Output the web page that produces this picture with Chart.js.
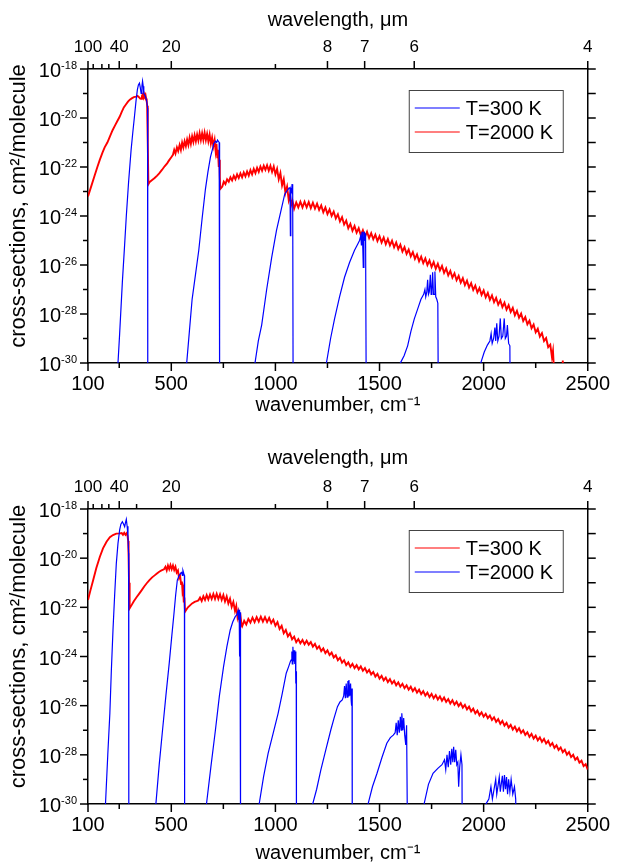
<!DOCTYPE html>
<html>
<head>
<meta charset="utf-8">
<script src="https://cdn.jsdelivr.net/npm/chart.js@4.4.0/dist/chart.umd.min.js"></script>
<style>
html, body { margin: 0; padding: 0; background: #fff; }
#top { position: absolute; left: 0; top: 0; width: 619px; height: 430px; }
#bottom { position: absolute; left: 0; top: 440px; width: 619px; height: 425px; }
</style>
</head>
<body>
<div id="top"><canvas id="c1"></canvas></div>
<div id="bottom"><canvas id="c2"></canvas></div>
<script>
// axis ticks
const xMajor = [100, 500, 1000, 1500, 2000, 2500];
const xMinor = [250, 750, 1250, 1750, 2250];
const wlMajor = [100, 40, 20, 8, 7, 6, 4];       // wavelength, um (top axis)
const wlMinor = [80, 60, 50, 30, 10];
const decades = [-18, -19, -20, -21, -22, -23, -24, -25, -26, -27, -28, -29, -30];
const decadeLabels = [-18, -20, -22, -24, -26, -28, -30];

// [wavenumber cm-1, log10(cross-section)]
// upper panel, T=300 K
const topBlue = [
  [240,-31],[244,-30],[252,-28.8],[265,-26.7],[275,-25.3],[284,-24.0],[295,-22.6],[307,-21.3],[315,-20.6],
  [323,-19.95],[331,-19.27],[337,-18.85],[342,-18.65],[347,-18.58],[351,-18.75],[355,-19.0],[359,-18.7],
  [362,-18.5],[365,-18.7],[368,-19.0],[375,-19.1],[382,-19.3],[386,-19.6],[387,-31],
  [570,-31],[574,-30],[587,-28.7],[600,-27.4],[616,-26.4],[632,-25.4],[648,-24.1],[664,-22.9],[676,-22.2],
  [688,-21.6],[697,-21.3],[704,-21.05],[712,-20.95],[718,-21.0],[722,-20.9],[726,-20.95],[730,-21.0],[732,-31],
  [898,-31],[902,-30],[918,-29.1],[934,-28.45],[958,-27.0],[982,-25.7],[1005,-24.6],[1030,-23.66],[1045,-23.1],
  [1058,-22.95],[1066,-22.85],[1070,-22.84],[1072,-24.8],[1074,-22.9],[1078,-23.0],[1080,-22.7],[1083,-22.9],[1085,-31],
  [1241,-31],[1245,-30],[1265,-29.0],[1284,-28.2],[1308,-27.3],[1332,-26.5],[1356,-25.9],[1380,-25.4],[1395,-25.15],
  [1404,-25.0],[1410,-24.8],[1413,-25.2],[1417,-24.64],[1420,-25.4],[1422,-26.1],[1425,-25.0],[1427,-24.64],
  [1431,-25.0],[1433,-24.7],[1436,-31],
  [1596,-31],[1600,-30],[1618,-29.7],[1635,-29.3],[1651,-28.7],[1667,-28.2],[1683,-27.8],[1699,-27.4],[1712,-27.2],
  [1718,-27.0],[1722,-27.3],[1727,-27.1],[1731,-26.6],[1735,-27.2],[1739,-27.1],[1744,-26.4],[1748,-27.2],[1751,-27.1],
  [1755,-26.3],[1759,-27.2],[1762,-27.2],[1766,-26.27],[1770,-27.3],[1775,-27.4],[1780,-27.56],[1782,-31],
  [1982,-31],[1986,-30],[2003,-29.55],[2018,-29.27],[2030,-29.1],[2036,-28.8],[2041,-29.2],[2048,-29.0],[2054,-28.55],
  [2058,-29.1],[2063,-28.38],[2068,-29.1],[2074,-28.9],[2080,-28.18],[2085,-29.0],[2092,-28.9],[2099,-28.18],
  [2104,-29.0],[2110,-28.9],[2114,-28.45],[2120,-29.2],[2126,-29.3],[2127,-31]
];

// upper panel, T=2000 K
const topRed = [
  [100,-23.2],[115,-22.8],[130,-22.4],[145,-22.0],[157,-21.7],[170,-21.4],[180,-21.2],[193,-21.0],[205,-20.76],
  [218,-20.5],[230,-20.3],[241,-20.12],[252,-19.95],[262,-19.75],[272,-19.57],[282,-19.45],[292,-19.33],[301,-19.25],
  [310,-19.2],[320,-19.15],[331,-19.13],[338,-19.1],[345,-19.15],[350,-19.2],[355,-19.22],[359,-19.1],[362,-19.05],
  [366,-19.15],[369,-19.0],[373,-19.1],[376,-19.05],[379,-19.2],[382,-19.3],[384,-19.5],[386,-19.8],[387,-20.1],
  [388,-21.0],[390,-22.7],
  [395,-22.62],[405,-22.55],[420,-22.45],[432,-22.35],[442,-22.26],[455,-22.12],[468,-21.97],[480,-21.85],[490,-21.72],
  [500,-21.6],[508,-21.5],[514,-21.3],[520,-21.45],[527,-21.2],[533,-21.35],[540,-21.1],[546,-21.3],[552,-21.0],
  [558,-21.2],[564,-20.95],[570,-21.15],[576,-20.88],[582,-21.1],[588,-20.8],[594,-21.05],[600,-20.75],[606,-20.98],
  [612,-20.7],[618,-20.95],[624,-20.68],[630,-20.92],[636,-20.62],[642,-20.9],[648,-20.62],[654,-20.9],[660,-20.6],
  [666,-20.9],[672,-20.65],[678,-20.95],[684,-20.68],[690,-21.05],[696,-20.8],[702,-21.15],[708,-20.9],[713,-21.35],
  [717,-21.05],[721,-21.6],[724,-21.3],[728,-22.0],[731,-21.7],[733,-22.4],[735,-22.9],
  [745,-22.8],[752,-22.6],[760,-22.7],[768,-22.5],[776,-22.6],[784,-22.42],[792,-22.55],[800,-22.36],[808,-22.5],
  [816,-22.3],[824,-22.45],[832,-22.26],[840,-22.42],[848,-22.22],[856,-22.38],[864,-22.18],[872,-22.35],[880,-22.13],
  [888,-22.3],[896,-22.08],[904,-22.25],[912,-22.03],[920,-22.2],[928,-21.98],[936,-22.15],[944,-21.95],[952,-22.12],
  [960,-21.93],[968,-22.15],[976,-21.95],[984,-22.2],[992,-21.98],[1000,-22.3],[1008,-22.08],[1016,-22.5],[1024,-22.25],
  [1032,-22.75],[1040,-22.5],[1048,-23.05],[1056,-22.8],[1064,-23.35],[1070,-23.15],[1076,-23.55],[1082,-23.38],
  [1090,-23.7],[1100,-23.45],[1110,-23.65],[1120,-23.42],[1130,-23.65],[1140,-23.42],[1150,-23.65],[1160,-23.43],
  [1170,-23.68],[1180,-23.46],[1190,-23.7],[1200,-23.5],[1210,-23.75],[1220,-23.57],[1230,-23.85],[1240,-23.65],
  [1250,-23.92],[1260,-23.73],[1270,-24.0],[1280,-23.82],[1290,-24.1],[1300,-23.93],[1310,-24.22],[1320,-24.05],
  [1330,-24.35],[1340,-24.19],[1350,-24.5],[1360,-24.32],[1370,-24.6],[1380,-24.41],[1390,-24.68],[1400,-24.5],
  [1410,-24.78],[1420,-24.58],[1430,-24.85],[1440,-24.64],[1450,-24.9],[1460,-24.7],[1470,-24.95],[1480,-24.76],
  [1490,-25.02],[1500,-24.82],[1510,-25.08],[1520,-24.88],[1530,-25.15],[1540,-24.94],[1550,-25.2],[1560,-25.01],
  [1570,-25.28],[1580,-25.08],[1590,-25.35],[1600,-25.17],[1610,-25.45],[1620,-25.27],[1630,-25.55],[1640,-25.37],
  [1650,-25.65],[1660,-25.47],[1670,-25.75],[1680,-25.57],[1690,-25.85],[1700,-25.66],[1710,-25.92],[1720,-25.73],
  [1730,-26.0],[1740,-25.81],[1750,-26.08],[1760,-25.88],[1770,-26.15],[1780,-25.95],[1790,-26.22],[1800,-26.04],
  [1810,-26.32],[1820,-26.14],[1830,-26.42],[1840,-26.24],[1850,-26.52],[1860,-26.34],[1870,-26.62],[1880,-26.44],
  [1890,-26.72],[1900,-26.54],[1910,-26.82],[1920,-26.64],[1930,-26.92],[1940,-26.74],[1950,-27.02],[1960,-26.84],
  [1970,-27.12],[1980,-26.94],[1990,-27.22],[2000,-27.04],[2010,-27.32],[2020,-27.14],[2030,-27.42],[2040,-27.24],
  [2050,-27.52],[2060,-27.34],[2070,-27.62],[2080,-27.44],[2090,-27.72],[2100,-27.54],[2110,-27.82],[2120,-27.64],
  [2130,-27.92],[2140,-27.75],[2150,-28.05],[2160,-27.87],[2170,-28.15],[2180,-27.98],[2190,-28.28],[2200,-28.12],
  [2210,-28.42],[2220,-28.27],[2230,-28.58],[2240,-28.43],[2250,-28.75],[2260,-28.6],[2270,-28.92],[2280,-28.78],
  [2290,-29.1],[2300,-28.98],[2310,-29.35],[2320,-29.25],[2328,-29.75],[2333,-29.5],[2338,-30.3],
  [2378,-30.3],[2380,-29.9],[2382,-30.3]
];

// lower panel, T=300 K (red)
const botRed = [
  [100,-21.7],[112,-21.3],[125,-20.89],[140,-20.4],[157,-19.94],[172,-19.6],[189,-19.33],[205,-19.15],[220,-19.06],
  [236,-19.0],[252,-18.99],[262,-18.98],[268,-19.05],[274,-18.97],[280,-19.05],[286,-18.98],[290,-19.1],[293,-19.3],
  [295,-19.94],[297,-21.0],[300,-22.04],
  [310,-21.9],[320,-21.75],[334,-21.58],[347,-21.43],[358,-21.3],[370,-21.15],[382,-21.02],[395,-20.89],[408,-20.78],
  [420,-20.7],[431,-20.62],[442,-20.55],[453,-20.5],[465,-20.45],[472,-20.35],[478,-20.5],[484,-20.3],[490,-20.45],
  [496,-20.28],[502,-20.45],[508,-20.3],[514,-20.48],[520,-20.35],[526,-20.58],[532,-20.5],[537,-20.8],[542,-20.7],
  [547,-21.05],[551,-20.95],[554,-21.35],[557,-21.25],[560,-21.8],[563,-21.6],[566,-22.18],
  [572,-22.1],[580,-22.0],[590,-21.92],[600,-21.84],[612,-21.78],[622,-21.75],[630,-21.72],[638,-21.6],[646,-21.74],
  [654,-21.55],[662,-21.7],[670,-21.5],[678,-21.68],[686,-21.48],[694,-21.66],[702,-21.46],[710,-21.66],[718,-21.45],
  [726,-21.66],[734,-21.47],[742,-21.7],[750,-21.5],[758,-21.76],[766,-21.56],[774,-21.84],[782,-21.65],[790,-21.98],
  [798,-21.78],[806,-22.15],[812,-21.95],[818,-22.4],[823,-22.2],[828,-22.55],[833,-22.4],[838,-22.75],
  [840,-22.78],[850,-22.55],[860,-22.7],[870,-22.47],[880,-22.62],[890,-22.42],[900,-22.6],[910,-22.4],[920,-22.58],
  [930,-22.38],[940,-22.58],[950,-22.4],[960,-22.6],[970,-22.43],[980,-22.64],[990,-22.5],[1000,-22.75],[1010,-22.6],
  [1020,-22.88],[1030,-22.75],[1040,-23.05],[1050,-22.92],[1060,-23.18],[1070,-23.06],[1080,-23.3],[1090,-23.19],
  [1100,-23.42],[1110,-23.29],[1120,-23.46],[1130,-23.33],[1140,-23.5],[1150,-23.36],[1160,-23.52],[1170,-23.41],
  [1180,-23.6],[1190,-23.49],[1200,-23.68],[1210,-23.58],[1220,-23.78],[1230,-23.67],[1240,-23.86],[1250,-23.75],
  [1260,-23.94],[1270,-23.84],[1280,-24.04],[1290,-23.95],[1300,-24.15],[1310,-24.05],[1320,-24.25],[1330,-24.15],
  [1340,-24.35],[1350,-24.24],[1360,-24.42],[1370,-24.3],[1380,-24.47],[1390,-24.35],[1400,-24.52],[1410,-24.4],
  [1420,-24.58],[1430,-24.47],[1440,-24.65],[1450,-24.54],[1460,-24.73],[1470,-24.63],[1480,-24.82],[1490,-24.71],
  [1500,-24.9],[1510,-24.79],[1520,-24.97],[1530,-24.86],[1540,-25.04],[1550,-24.92],[1560,-25.1],[1570,-24.99],
  [1580,-25.17],[1590,-25.05],[1600,-25.23],[1610,-25.11],[1620,-25.29],[1630,-25.17],[1640,-25.35],[1650,-25.23],
  [1660,-25.41],[1670,-25.29],[1680,-25.47],[1690,-25.35],[1700,-25.53],[1710,-25.41],[1720,-25.59],[1730,-25.47],
  [1740,-25.65],[1750,-25.52],[1760,-25.7],[1770,-25.57],[1780,-25.75],[1790,-25.62],[1800,-25.8],[1810,-25.67],
  [1820,-25.85],[1830,-25.73],[1840,-25.91],[1850,-25.78],[1860,-25.96],[1870,-25.84],[1880,-26.02],[1890,-25.9],
  [1900,-26.08],[1910,-25.97],[1920,-26.15],[1930,-26.04],[1940,-26.23],[1950,-26.12],[1960,-26.31],[1970,-26.2],
  [1980,-26.39],[1990,-26.27],[2000,-26.45],[2010,-26.33],[2020,-26.51],[2030,-26.4],[2040,-26.58],[2050,-26.47],
  [2060,-26.66],[2070,-26.55],[2080,-26.74],[2090,-26.62],[2100,-26.81],[2110,-26.7],[2120,-26.89],[2130,-26.78],
  [2140,-26.97],[2150,-26.85],[2160,-27.04],[2170,-26.92],[2180,-27.11],[2190,-27.0],[2200,-27.19],[2210,-27.08],
  [2220,-27.27],[2230,-27.15],[2240,-27.34],[2250,-27.22],[2260,-27.41],[2270,-27.29],[2280,-27.47],[2290,-27.35],
  [2300,-27.54],[2310,-27.43],[2320,-27.63],[2330,-27.52],[2340,-27.72],[2350,-27.61],[2360,-27.8],[2370,-27.7],
  [2380,-27.89],[2390,-27.79],[2400,-27.99],[2410,-27.89],[2420,-28.09],[2430,-28.0],[2440,-28.2],[2450,-28.11],
  [2460,-28.32],[2470,-28.24],[2480,-28.46],[2490,-28.38],[2500,-28.6]
];

// lower panel, T=2000 K (blue)
const botBlue = [
  [180,-31],[184,-30],[195,-28.0],[205,-26.31],[212,-24.6],[220,-22.92],[228,-21.5],[236,-20.21],[244,-19.4],
  [252,-18.85],[258,-18.62],[265,-18.52],[270,-18.6],[276,-18.72],[280,-18.55],[284,-18.42],[288,-18.7],[292,-19.13],
  [295,-19.8],[296,-31],
  [422,-31],[426,-30],[442,-28.4],[458,-26.99],[474,-25.6],[490,-24.28],[502,-23.2],[513,-22.24],[521,-21.5],
  [529,-20.89],[537,-20.72],[545,-20.62],[550,-20.58],[553,-20.7],[556,-20.5],[560,-20.62],[563,-20.7],[564,-31],
  [665,-31],[669,-30],[690,-28.5],[712,-26.99],[731,-25.6],[751,-24.41],[767,-23.6],[783,-22.92],[795,-22.6],
  [807,-22.38],[815,-22.3],[820,-22.15],[823,-22.5],[826,-22.1],[828,-24.0],[830,-22.2],[832,-22.6],[833,-31],
  [918,-31],[922,-30],[943,-28.9],[965,-27.94],[990,-27.1],[1013,-26.31],[1033,-25.5],[1052,-24.68],[1064,-24.4],
  [1072,-24.2],[1076,-24.14],[1079,-23.8],[1081,-24.3],[1084,-23.6],[1087,-24.2],[1090,-23.75],[1093,-24.3],
  [1096,-23.8],[1098,-25.1],[1100,-24.6],[1101,-31],
  [1175,-31],[1179,-30],[1198,-29.4],[1218,-28.62],[1242,-27.8],[1266,-26.99],[1282,-26.5],[1298,-26.04],[1310,-25.85],
  [1321,-25.77],[1328,-25.6],[1332,-25.2],[1336,-25.7],[1340,-25.1],[1344,-25.65],[1348,-25.0],[1352,-25.6],
  [1353,-24.96],[1357,-25.6],[1361,-25.1],[1364,-25.8],[1366,-26.0],[1368,-25.3],[1369,-31],
  [1441,-31],[1445,-30],[1466,-29.3],[1488,-28.75],[1512,-28.1],[1535,-27.53],[1552,-27.3],[1566,-27.2],[1575,-27.1],
  [1580,-26.7],[1585,-27.2],[1590,-26.6],[1595,-27.1],[1600,-26.45],[1604,-27.0],[1607,-26.31],[1612,-27.0],
  [1616,-26.5],[1621,-27.2],[1626,-27.6],[1630,-26.8],[1634,-31],
  [1710,-31],[1714,-30],[1735,-29.2],[1757,-28.75],[1780,-28.55],[1800,-28.4],[1812,-28.2],[1818,-28.6],[1824,-28.0],
  [1830,-28.5],[1836,-27.85],[1842,-28.4],[1847,-27.75],[1852,-28.3],[1856,-27.67],[1861,-28.3],[1866,-27.8],
  [1871,-28.4],[1876,-28.3],[1880,-29.3],[1885,-28.5],[1891,-28.0],[1896,-28.4],[1897,-31],
  [2007,-31],[2011,-30],[2025,-29.8],[2035,-29.3],[2042,-29.8],[2050,-29.4],[2058,-29.0],[2063,-29.6],[2070,-29.2],
  [2075,-28.9],[2080,-29.5],[2086,-29.1],[2090,-28.85],[2095,-29.5],[2100,-28.82],[2105,-29.4],[2110,-28.9],
  [2115,-29.6],[2120,-29.0],[2126,-29.5],[2132,-29.0],[2140,-29.6],[2148,-29.3],[2154,-29.8],[2156,-31]
];

const FONT = '"Liberation Sans", Arial, Helvetica, sans-serif';
Chart.defaults.font.family = FONT;
Chart.defaults.color = '#000';

const toPoints = arr => arr.map(p => ({ x: p[0], y: Math.pow(10, p[1]) }));

// tick marks, y labels with superscripts, y title, legend box
const frame = {
  id: 'frame',
  afterDraw(chart, args, opts) {
    const { ctx, chartArea: a, scales } = chart;
    const sx = scales.x, sy = scales.y;
    const seg = (x1, y1, x2, y2) => { ctx.beginPath(); ctx.moveTo(x1, y1); ctx.lineTo(x2, y2); ctx.stroke(); };
    ctx.save();
    ctx.strokeStyle = '#000';
    ctx.lineWidth = 1.5;
    xMajor.forEach(v => { const p = sx.getPixelForValue(v); seg(p, a.bottom, p, a.bottom + 8); });
    xMinor.forEach(v => { const p = sx.getPixelForValue(v); seg(p, a.bottom, p, a.bottom + 5); });
    wlMajor.forEach(l => { const p = sx.getPixelForValue(10000 / l); seg(p, a.top, p, a.top - 8); });
    wlMinor.forEach(l => { const p = sx.getPixelForValue(10000 / l); seg(p, a.top, p, a.top - 5); });
    decades.forEach(e => {
      const p = sy.getPixelForValue(Math.pow(10, e));
      seg(a.left - (e % 2 === 0 ? 8 : 5), p, a.left, p);
      seg(a.right, p, a.right + 8, p);
    });

    ctx.fillStyle = '#000';
    ctx.textAlign = 'right';
    ctx.textBaseline = 'alphabetic';
    decadeLabels.forEach(e => {
      const p = sy.getPixelForValue(Math.pow(10, e));
      const ex = String(e);
      ctx.font = '11px ' + FONT;
      const w = ctx.measureText(ex).width;
      ctx.fillText(ex, a.left - 11, p);
      ctx.font = '20px ' + FONT;
      ctx.fillText('10', a.left - 11 - w, p + 8);
    });

    // y axis title
    ctx.save();
    ctx.translate(19, (a.top + a.bottom) / 2 - 10);
    ctx.rotate(-Math.PI / 2);
    ctx.textAlign = 'center';
    ctx.textBaseline = 'middle';
    ctx.font = '22px ' + FONT;
    ctx.fillText('cross-sections, cm²/molecule', 0, 0);
    ctx.restore();

    const items = opts.items || [];
    const bx = a.right - 179, by = a.top + 21;
    ctx.fillStyle = '#fff';
    ctx.fillRect(bx, by, 154, 62);
    ctx.strokeStyle = '#444';
    ctx.lineWidth = 1;
    ctx.strokeRect(bx + 0.5, by + 0.5, 154, 62);
    ctx.font = '20px ' + FONT;
    ctx.textAlign = 'left';
    ctx.textBaseline = 'middle';
    items.forEach((it, i) => {
      const ly = by + 18 + i * 24;
      ctx.strokeStyle = it.color;
      ctx.lineWidth = 1.2;
      seg(bx + 6, ly, bx + 51, ly);
      ctx.fillStyle = '#000';
      ctx.fillText(it.label, bx + 57, ly + 1);
    });
    ctx.restore();
  }
};

const border = { display: true, color: '#000', width: 1.5 };
const noGrid = { display: false, drawTicks: false };

function makeChart(id, sets, items, sz) {
  return new Chart(document.getElementById(id), {
    type: 'line',
    data: {
      datasets: sets.map(s => ({
        label: s.label,
        data: toPoints(s.data),
        borderColor: s.color,
        borderWidth: s.width,
        pointRadius: 0,
        tension: 0,
        fill: false,
        xAxisID: 'x',
        yAxisID: 'y'
      }))
    },
    options: {
      responsive: true,
      maintainAspectRatio: false,
      animation: false,
      devicePixelRatio: 1,
      layout: { padding: 0 },
      plugins: { legend: { display: false }, tooltip: { enabled: false }, frame: { items: items } },
      scales: {
        x: {
          type: 'linear', position: 'bottom', min: 100, max: 2500,
          grid: noGrid, border: border,
          afterBuildTicks: s => { s.ticks = xMajor.map(v => ({ value: v })); },
          ticks: { autoSkip: false, maxRotation: 0, padding: 9, font: { size: 20 }, callback: v => String(v) },
          title: { display: true, text: 'wavenumber, cm⁻¹', font: { size: 20 }, padding: { top: 0, bottom: sz.xTitle } },
          afterFit: s => { s.height = sz.bottom; }
        },
        x2: {
          type: 'linear', position: 'top', min: 100, max: 2500,
          grid: noGrid, border: border,
          afterBuildTicks: s => { s.ticks = wlMajor.map(l => ({ value: 10000 / l })); },
          ticks: { autoSkip: false, maxRotation: 0, padding: 11, font: { size: 17 }, callback: v => String(Math.round(10000 / v)) },
          title: { display: true, text: 'wavelength, μm', font: { size: 20 }, padding: { top: sz.topTitle, bottom: 0 } },
          afterFit: s => { s.height = 69; }
        },
        y: {
          type: 'logarithmic', position: 'left', min: 1e-30, max: 1e-18,
          grid: noGrid, border: border,
          ticks: { display: false },
          afterBuildTicks: s => { s.ticks = decades.map(e => ({ value: Math.pow(10, e) })); },
          afterFit: s => { s.width = 88; }
        },
        y2: {
          type: 'logarithmic', position: 'right', min: 1e-30, max: 1e-18,
          grid: noGrid, border: border,
          ticks: { display: false },
          afterFit: s => { s.width = 26; }
        }
      }
    },
    plugins: [frame]
  });
}

makeChart('c1',
  [
    { label: 'T=300 K', data: topBlue, color: '#0000ff', width: 1.2 },
    { label: 'T=2000 K', data: topRed, color: '#ff0000', width: 1.9 }
  ],
  [ { label: 'T=300 K', color: '#0000ff' }, { label: 'T=2000 K', color: '#ff0000' } ],
  { bottom: 67, xTitle: 13, topTitle: 8 }
);

makeChart('c2',
  [
    { label: 'T=2000 K', data: botBlue, color: '#0000ff', width: 1.2 },
    { label: 'T=300 K', data: botRed, color: '#ff0000', width: 1.9 }
  ],
  [ { label: 'T=300 K', color: '#ff0000' }, { label: 'T=2000 K', color: '#0000ff' } ],
  { bottom: 61, xTitle: 0, topTitle: 6 }
);
</script>
</body>
</html>
